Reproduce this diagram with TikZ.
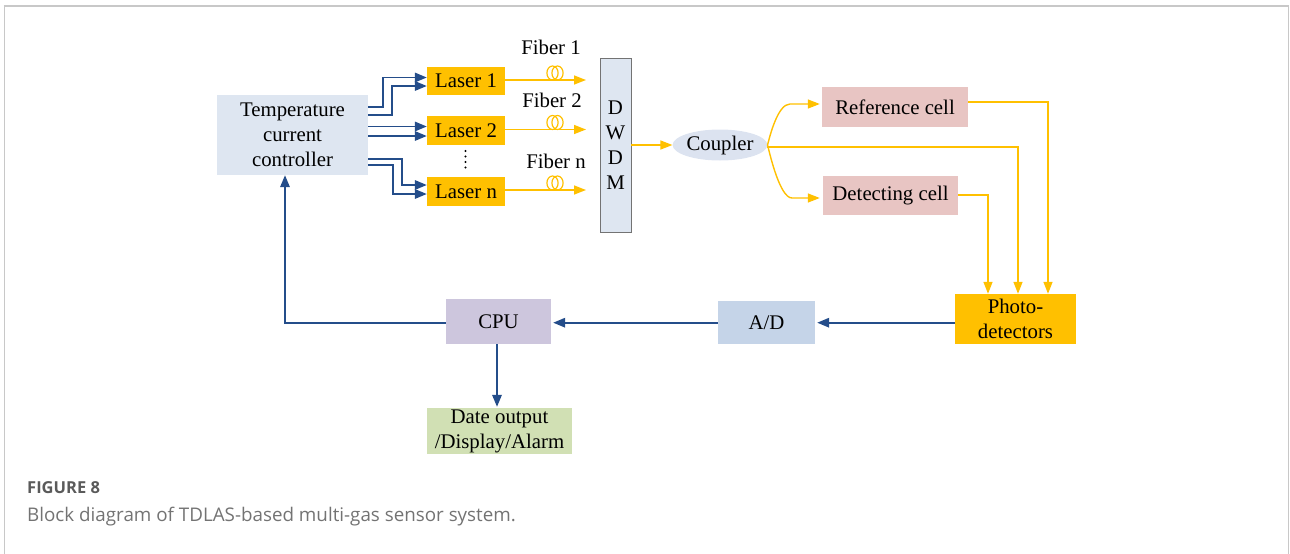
\documentclass[tikz,border=0pt]{standalone}
\usepackage{fontspec}
\setmainfont{Liberation Serif}
\newfontfamily\capfont{Open Sans}
\usetikzlibrary{arrows.meta,shapes.geometric}
\definecolor{ctrlfill}{HTML}{DEE6F1}
\definecolor{laserfill}{HTML}{FFC000}
\definecolor{oline}{HTML}{FFC000}
\definecolor{bline}{HTML}{244D8A}
\definecolor{cellfill}{HTML}{E8C5C3}
\definecolor{adfill}{HTML}{C5D4E8}
\definecolor{cpufill}{HTML}{CDC6DD}
\definecolor{datefill}{HTML}{D1E0B4}
\definecolor{cplfill}{HTML}{DCE3F0}
\definecolor{framec}{HTML}{C8C8C8}
\definecolor{capgray}{HTML}{5A5A5A}
\begin{document}
\begin{tikzpicture}[x=1pt,y=-1pt,
  box/.style={draw=none,inner sep=0pt,align=center,font=\fontsize{20.8}{25}\selectfont},
  barrow/.style={draw=bline,line width=1.7pt,-{Triangle[length=12pt,width=9.5pt]}},
  oarrow/.style={draw=oline,line width=1.4pt,-{Triangle[length=12pt,width=9pt]}},
  coil/.style={draw=oline,line width=1.2pt},
  lbl/.style={inner sep=0pt,font=\fontsize{20.8}{25}\selectfont}]
\useasboundingbox (0,0) rectangle (1290,554);
% frame
\draw[framec,line width=1pt] (4,554) -- (4,5.5);
\draw[framec,line width=1pt] (1288.5,554) -- (1288.5,5.5);
\draw[framec,line width=2pt] (3.5,5.5) -- (1289,5.5);
% nodes
\node[box,fill=ctrlfill,minimum width=151pt,minimum height=80pt] (ctrl) at (292.5,135) {Temperature\\current\\controller};
\node[box,fill=laserfill,minimum width=78pt,minimum height=28pt] (l1) at (466,81) {Laser 1};
\node[box,fill=laserfill,minimum width=78pt,minimum height=29pt] (l2) at (466,130.5) {Laser 2};
\node[box,fill=laserfill,minimum width=78pt,minimum height=29pt] (ln) at (466,191.5) {Laser n};
\foreach \yy in {151,156.5,162,167.5}{\fill (465.5,\yy) circle [radius=1.1pt];}
\node[box,draw=gray!90!black,line width=0.8pt,fill=ctrlfill,minimum width=31pt,minimum height=174pt] (dwdm) at (615.5,145) {D\\W\\D\\M};
\node[box,ellipse,fill=cplfill,minimum width=82pt,minimum height=31pt] (cp) at (720,145) {Coupler};
\node[box,fill=cellfill,minimum width=146pt,minimum height=40pt] (ref) at (895,107) {Reference cell};
\node[box,fill=cellfill,minimum width=135pt,minimum height=39pt] (det) at (890.5,195.5) {Detecting cell};
\node[box,fill=laserfill,minimum width=121pt,minimum height=50pt] (pd) at (1015.5,319) {Photo-\\detectors};
\node[box,fill=adfill,minimum width=97pt,minimum height=43pt] (ad) at (766.5,322.5) {A/D};
\node[box,fill=cpufill,minimum width=105pt,minimum height=45pt] (cpu) at (498.5,321.5) {CPU};
\node[box,fill=datefill,minimum width=145pt,minimum height=46pt] (date) at (499.5,431) {Date output\\/Display/Alarm};
% fiber labels
\node[lbl] (fl1) at (551,47) {Fiber 1};
\node[lbl] (fl2) at (552,100) {Fiber 2};
\node[lbl] (fln) at (556,161) {Fiber n};
% blue connectors controller -> lasers
\coordinate (a1) at (0,106.7); \coordinate (a1t) at (0,77.5);
\coordinate (a2) at (0,115);   \coordinate (a2t) at (0,86);
\coordinate (b1) at (0,126.5); \coordinate (b2) at (0,136);
\coordinate (c1) at (0,159);   \coordinate (c1t) at (0,185);
\coordinate (c2) at (0,165);   \coordinate (c2t) at (0,194);
\draw[barrow] (ctrl.east |- a1) -- ++(15,0) |- (l1.west |- a1t);
\draw[barrow] (ctrl.east |- a2) -- ++(24,0) |- (l1.west |- a2t);
\draw[barrow] (ctrl.east |- b1) -- (l2.west |- b1);
\draw[barrow] (ctrl.east |- b2) -- (l2.west |- b2);
\draw[barrow] (ctrl.east |- c1) -- ++(34,0) |- (ln.west |- c1t);
\draw[barrow] (ctrl.east |- c2) -- ++(25,0) |- (ln.west |- c2t);
% fibers
\coordinate (f1) at (586,80);
\coordinate (f2) at (586,129.5);
\coordinate (fn) at (586,190);
\draw[oarrow] (l1.east |- f1) -- (f1);
\draw[oarrow] (l2.east |- f2) -- (f2);
\draw[oarrow] (ln.east |- fn) -- (fn);
\foreach \yy in {80,129.5,190}{
  \draw[coil] (552.5,\yy-7) ellipse [x radius=5.6pt,y radius=7pt];
  \draw[coil] (557.5,\yy-7) ellipse [x radius=5.6pt,y radius=7pt];
}
% dwdm -> coupler
\draw[oarrow] (dwdm.east |- cp.west) -- (cp.west);
% coupler branches
\coordinate (rq) at (0,104);
\coordinate (dq) at (0,198);
\draw[oarrow] (cp.east) .. controls (770,135) and (778,104) .. (790,104) -- ([xshift=-2pt]ref.west |- rq);
\draw[oarrow] (cp.east) .. controls (770,155) and (780,198) .. (792,198) -- ([xshift=-3pt]det.west |- dq);
\coordinate (m1) at (1018,147);
\coordinate (m2) at (1048,102);
\coordinate (m3) at (988,195);
\draw[oarrow] (cp.east) -- (cp.east |- m1) -- (m1) -- (pd.north -| m1);
\draw[oarrow] (ref.east |- m2) -- (m2) -- (pd.north -| m2);
\draw[oarrow] (det.east |- m3) -- (m3) -- (pd.north -| m3);
% blue lower path
\coordinate (hy) at (0,322.7);
\draw[barrow,shorten >=2pt] (pd.west |- hy) -- (ad.east |- hy);
\draw[barrow,shorten >=2pt] (ad.west |- hy) -- (cpu.east |- hy);
\coordinate (fx) at (285,0);
\coordinate (dx) at (497,0);
\draw[barrow] (cpu.west |- hy) -| (ctrl.south -| fx);
\draw[barrow,shorten >=1pt] (cpu.south -| dx) -- (date.north -| dx);
% caption
\node[anchor=west,inner sep=0pt,text=capgray,font=\capfont\bfseries\fontsize{16.5}{22}\selectfont] (fig) at (27,488) {FIGURE 8};
\node[anchor=west,inner sep=0pt,text=capgray!85,font=\capfont\fontsize{18.8}{22}\selectfont] (cap) at (27,517) {Block diagram of TDLAS-based multi-gas sensor system.};
\end{tikzpicture}
\end{document}
